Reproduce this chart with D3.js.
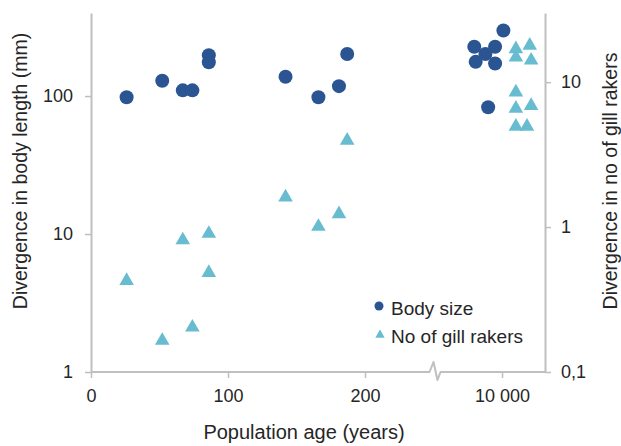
<!DOCTYPE html>
<html>
<head>
<meta charset="utf-8">
<script src="https://cdn.jsdelivr.net/npm/d3@7"></script>
<style>
  html, body { margin: 0; padding: 0; background: #fff; }
  svg { display: block; font-family: "Liberation Sans", Arial, sans-serif; }
</style>
</head>
<body>
<svg id="chart" width="621" height="446"></svg>
<script>
// ---- data ----
const bodyAge  = [26, 52, 67, 74, 86, 86, 142, 166, 181, 187, 10001, 9980, 9995, 9988, 9981, 9995, 9990];
const bodySize = [98, 129, 110, 110, 198, 176, 138, 98, 118, 202, 299, 228, 228, 202, 177, 172, 83];
const gillAge  = [26, 52, 67, 74, 86, 86, 142, 166, 181, 187, 10010, 10020, 10010, 10021, 10010, 10010, 10021, 10010, 10018];
const gillRakers = [0.44, 0.17, 0.84, 0.21, 0.93, 0.50, 1.66, 1.04, 1.27, 4.09, 17.5, 18.5, 15.3, 14.6, 8.8, 6.8, 7.1, 5.1, 5.1];
const xTicks = [0, 100, 200, 10000];
const yLeftTicks = [1, 10, 100];
const yRightTicks = [0.1, 1, 10];
const seriesNames = ["Body size", "No of gill rakers"];

const svg = d3.select("#chart");
const locale = d3.formatLocale({decimal: ",", thousands: "\u00a0", grouping: [3], currency: ["", ""]});
const fmtX = locale.format(",");
const fmtY = v => locale.format(",")(v);

const x = d3.scaleLinear().domain([0, 250, 9956, 10031]).range([91, 433.5, 441, 545]);
const yL = d3.scaleLog().domain([1, 400]).range([372, 13]);
const yR = d3.scaleLog().domain([0.1, 30]).range([372, 13]);

const axisColor = "#bfbfbf";
const dark = "#2a5592";
const light = "#68bccf";
const textColor = "#262626";

// left axis
const gL = svg.append("g").attr("transform", "translate(91,0)")
  .call(d3.axisLeft(yL).tickValues(yLeftTicks).tickFormat(fmtY).tickSize(6).tickSizeOuter(0));
// right axis
const gR = svg.append("g").attr("transform", "translate(545,0)")
  .call(d3.axisRight(yR).tickValues(yRightTicks).tickFormat(fmtY).tickSize(6).tickSizeOuter(0));
// bottom axis (ticks only; line drawn with break)
const gB = svg.append("g").attr("transform", "translate(0,372)")
  .call(d3.axisBottom(x).tickValues(xTicks).tickFormat(fmtX).tickSize(6).tickSizeOuter(0));
gB.select(".domain").remove();
for (const g of [gL, gR, gB]) {
  g.selectAll(".domain").attr("stroke", axisColor).attr("stroke-width", 2);
  g.selectAll(".tick line").attr("stroke", axisColor).attr("stroke-width", 1.5);
  g.selectAll(".tick text").attr("fill", textColor).style("font-size", "18px")
    .style("font-family", "'Liberation Sans', Arial, sans-serif");
}
gL.selectAll(".tick text").attr("x", -18);
gR.selectAll(".tick text").attr("x", 16);
gB.selectAll(".tick text").attr("y", 17);

// x axis line with break
const bx = x(250);
svg.append("path")
  .attr("d", `M${x(0)},372 H${bx - 4} L${bx},362 L${bx + 4},380 L${bx + 7},372 H545`)
  .attr("fill", "none").attr("stroke", axisColor).attr("stroke-width", 2)
  .attr("stroke-linejoin", "round");

// points
svg.append("g").selectAll("circle").data(d3.range(bodyAge.length)).join("circle")
  .attr("cx", i => x(bodyAge[i])).attr("cy", i => yL(bodySize[i]))
  .attr("r", 7).attr("fill", dark);

const tri = d3.symbol().type(d3.symbolTriangle).size(92);
svg.append("g").selectAll("path").data(d3.range(gillAge.length)).join("path")
  .attr("d", tri)
  .attr("transform", i => `translate(${x(gillAge[i])},${yR(gillRakers[i]) + 2})`)
  .attr("fill", light);

// legend
const leg = svg.append("g");
leg.append("circle").attr("cx", 379).attr("cy", 306).attr("r", 4.5).attr("fill", dark);
leg.append("path").attr("d", d3.symbol().type(d3.symbolTriangle).size(38)())
  .attr("transform", "translate(380,335)").attr("fill", light);
leg.append("text").attr("x", 391).attr("y", 315).text(seriesNames[0])
  .attr("fill", textColor).style("font-size", "19px");
leg.append("text").attr("x", 391).attr("y", 343).text(seriesNames[1])
  .attr("fill", textColor).style("font-size", "19px");

// axis titles
svg.append("text").attr("x", 304).attr("y", 439).attr("text-anchor", "middle")
  .style("font-size", "20px").attr("fill", textColor).text("Population age (years)");
svg.append("text").attr("transform", "translate(27,171) rotate(-90)").attr("text-anchor", "middle")
  .style("font-size", "19.5px").attr("fill", textColor).text("Divergence in body length (mm)");
svg.append("text").attr("transform", "translate(617,181) rotate(-90)").attr("text-anchor", "middle")
  .style("font-size", "19.5px").attr("fill", textColor).text("Divergence in no of gill rakers");
</script>
</body>
</html>
